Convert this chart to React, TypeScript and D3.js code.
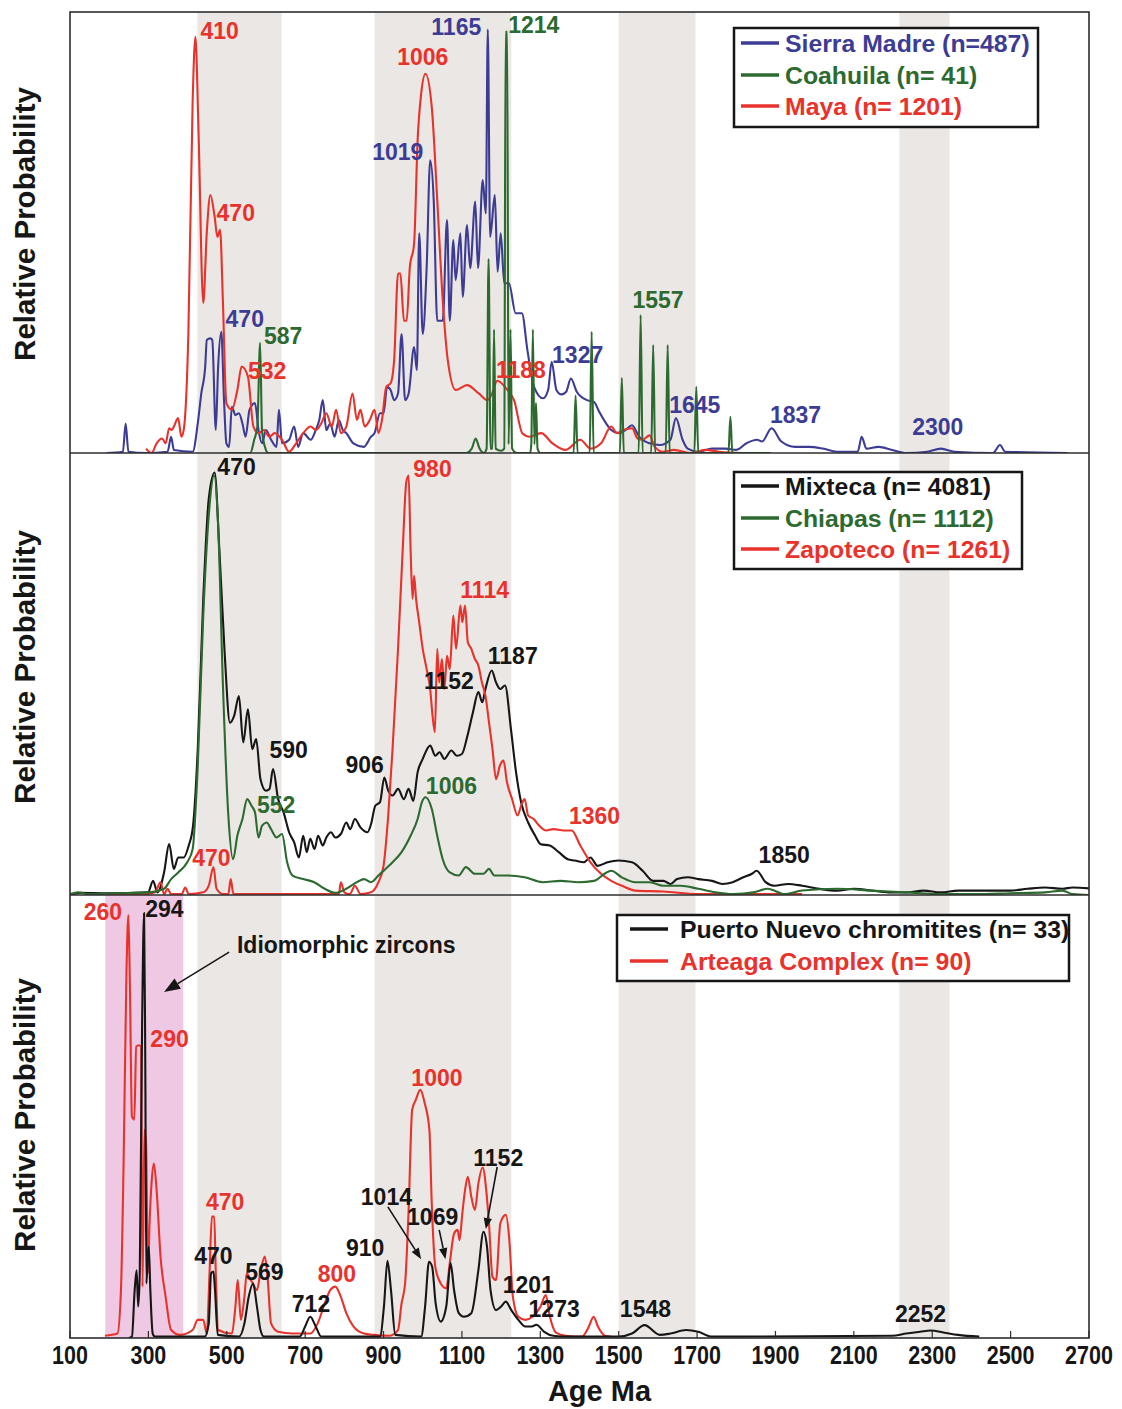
import React from "react";
import * as d3 from "d3";

type Pt = [number, number];

// ---- colours ----
const RED = "#e8322c";
const BLUE = "#3c3c95";
const GREEN = "#2c6a2f";
const BLACK = "#161616";
const BAND = "#ebe7e5";
const PINK = "#efc9e3";
const FRAME = "#2e2e2e";

// ---- axis ----
const ageTicks = [100, 300, 500, 700, 900, 1100, 1300, 1500, 1700, 1900, 2100, 2300, 2500, 2700];
const greyBands: Pt[] = [[425, 640], [877, 1226], [1500, 1696], [2216, 2344]];
const pinkBand: Pt = [190, 389];

// ---- panel 1: Sierra Madre, Coahuila, Maya ----
const sierraMadre: Pt[] = [
  [194, 0], [235, 0.3], [242, 6.7], [249, 0.3], [294, 0], [349, 0.3], [358, 3.7], [365, 0.7], [413, 0.3],
  [426, 6.7], [435, 13.5], [445, 19.6], [449, 25.6], [458, 26], [463, 25.6], [472, 5.2], [478, 19.6], [486, 27.5],
  [493, 12], [499, 2.2], [506, 1.4], [513, 10.5], [522, 8.6], [531, 9], [540, 6.7], [548, 3.7], [558, 9.8],
  [572, 11.3], [581, 5.2], [590, 2.2], [600, 5.2], [613, 3], [627, 1.4], [633, 9.8], [641, 2.2], [659, 3],
  [672, 6], [682, 1.4], [695, 4.5], [714, 3], [727, 5.2], [736, 7.5], [745, 12], [754, 5.2], [764, 6.7],
  [775, 3.7], [786, 7.5], [796, 5.2], [805, 4.5], [823, 2.2], [850, 1.4], [868, 3.7], [877, 4.5], [891, 9],
  [900, 9], [909, 15], [918, 14.3], [927, 12], [937, 13.5], [946, 27], [955, 12], [964, 13.5], [978, 24],
  [985, 18.8], [991, 49.8], [1000, 27], [1010, 42], [1019, 66.4], [1028, 57.4], [1037, 30], [1051, 30],
  [1062, 52.8], [1069, 30], [1078, 48.3], [1084, 39.2], [1096, 49.8], [1102, 35.4], [1113, 51.7], [1121, 41.9],
  [1134, 57], [1141, 41.9], [1153, 61.9], [1161, 54.3], [1166, 96], [1172, 49], [1184, 58.5], [1191, 41.1],
  [1199, 49.8], [1208, 38.5], [1220, 38.5], [1237, 31.7], [1253, 31.7], [1267, 23.4], [1284, 15], [1307, 12.4],
  [1320, 14.3], [1329, 20.7], [1341, 14.3], [1354, 13.3], [1366, 13.9], [1378, 16.9], [1393, 13.9], [1419, 12],
  [1437, 11.6], [1450, 9.4], [1468, 6.7], [1481, 5.2], [1499, 4.5], [1517, 5.2], [1534, 6.3], [1552, 3.7],
  [1579, 2.2], [1605, 1.8], [1632, 3], [1646, 7.9], [1663, 3], [1676, 1], [1703, 0.3], [1738, 1], [1773, 1],
  [1800, 0.7], [1826, 2.2], [1853, 3], [1866, 2.6], [1890, 5.6], [1915, 2.6], [1950, 1.4], [1986, 1.4],
  [2021, 1], [2057, 0.3], [2110, 0.3], [2120, 3.7], [2132, 1], [2163, 1.4], [2198, 0.7], [2234, 0],
  [2287, 0.3], [2322, 1], [2357, 0.3], [2455, 0], [2473, 1.8], [2486, 0.3], [2645, 0],
];

const coahuila: Pt[] = [
  [499, 0], [560, 0], [570, 3], [578, 6], [585, 25], [590, 5], [597, 1.5], [606, 0], [1110, 0], [1125, 1],
  [1135, 3.3], [1145, 1], [1156, 0], [1163, 1], [1168, 44], [1173, 1], [1178, 1], [1182, 28], [1186, 1],
  [1200, 0.5], [1208, 1], [1211.5, 95.5], [1215.5, 95.5], [1219, 2], [1224, 28], [1228, 1], [1240, 0],
  [1274, 0], [1277, 2], [1281, 28], [1285, 2], [1289, 11.3], [1293, 1], [1300, 0], [1385, 0], [1390, 13],
  [1395, 0], [1426, 0], [1431, 27.5], [1436, 0], [1503, 0], [1508, 17], [1513, 0], [1551, 0], [1556, 31.3],
  [1561, 0], [1583, 0], [1588, 24.5], [1593, 0], [1620, 0], [1625, 24.5], [1630, 0], [1693, 0], [1698, 15],
  [1703, 0], [1780, 0], [1785, 8.2], [1790, 0], [1888, 0],
];

const maya: Pt[] = [
  [294, 1], [308, 0], [321, 2.2], [335, 3.3], [344, 2.2], [353, 5.6], [360, 5.2], [365, 6], [376, 7.9],
  [384, 3.7], [390, 5.2], [402, 27], [413, 80], [420, 94.4], [428, 72.5], [440, 34], [449, 50], [458, 58.5],
  [469, 53.6], [476, 49], [483, 50.6], [490, 34.7], [499, 11.3], [513, 9.8], [527, 14.3], [538, 19.6],
  [554, 17.3], [568, 6], [581, 4.5], [595, 5.2], [609, 3.7], [622, 4.5], [641, 3], [659, 0.3], [677, 2.2],
  [695, 4.5], [714, 6], [727, 5.2], [741, 6.7], [754, 9], [768, 6], [779, 9.8], [791, 4.5], [805, 6],
  [821, 13.5], [832, 7.5], [841, 9.8], [852, 6], [865, 7.5], [877, 9.8], [887, 4.5], [896, 7.5], [907, 15],
  [918, 15.8], [927, 21], [937, 40.7], [943, 40.7], [952, 30], [959, 30], [967, 42], [978, 47.5], [987, 71],
  [996, 81.5], [1007, 86], [1023, 78.5], [1037, 57.4], [1051, 34.7], [1064, 21], [1084, 14.3], [1113, 15.4],
  [1143, 13.5], [1165, 12], [1177, 13.5], [1190, 16.4], [1216, 14.3], [1233, 12], [1254, 4.5], [1273, 3.7],
  [1302, 4.5], [1331, 2.2], [1365, 0.7], [1402, 3], [1428, 1], [1455, 2.2], [1481, 6], [1495, 4.5],
  [1512, 5.2], [1534, 5.6], [1548, 3.3], [1561, 3], [1579, 4], [1592, 1.4], [1614, 0.3], [1641, 0.7],
  [1685, 0], [1720, 0.7], [1756, 0.3], [1818, 0],
];

// ---- panel 2: Mixteca, Chiapas, Zapoteco ----
const mixteca: Pt[] = [
  [100, 0], [130, 0.5], [194, 0.4], [299, 0.6], [312, 3.2], [323, 0.6], [340, 5.1], [353, 11.5], [365, 5.9],
  [376, 8.5], [390, 8.5], [403, 11.2], [414, 15.7], [426, 33], [440, 67], [454, 89.6], [469, 95.6], [481, 78.3],
  [495, 54.1], [508, 39], [519, 40.6], [531, 45], [542, 34.5], [554, 42], [565, 33], [575, 35.3], [586, 26.2],
  [600, 23.6], [609, 24], [618, 28.5], [631, 21.7], [645, 18.7], [659, 14.2], [672, 11.9], [684, 8.5],
  [695, 13.4], [704, 9.7], [713, 12.7], [724, 10.4], [733, 13.4], [745, 11.2], [754, 13], [766, 14.2],
  [777, 13], [791, 13.8], [805, 16.4], [815, 14.9], [827, 17.2], [841, 15.3], [859, 14.2], [868, 16],
  [879, 20.2], [891, 21], [902, 26.6], [912, 23.6], [923, 22.5], [937, 24], [952, 21.7], [964, 24],
  [976, 21.3], [987, 27.8], [1000, 30.8], [1019, 33.8], [1032, 31.5], [1043, 32.3], [1055, 30.8],
  [1073, 32.7], [1087, 31.5], [1100, 31.9], [1114, 36], [1128, 41.3], [1142, 45.9], [1152, 43.6],
  [1160, 46.6], [1176, 50.8], [1187, 48.1], [1198, 46.6], [1210, 47.4], [1225, 37.6], [1237, 28.5],
  [1251, 21], [1269, 16.4], [1287, 13.4], [1301, 11.5], [1324, 11.2], [1347, 9.7], [1370, 8.1], [1388, 7.8],
  [1411, 7.4], [1428, 8.5], [1446, 6.6], [1472, 7.4], [1499, 7.8], [1534, 7.4], [1561, 5.5], [1588, 3.2],
  [1614, 3.2], [1632, 2.5], [1649, 3.6], [1676, 4], [1703, 3.6], [1738, 3.2], [1765, 2.5], [1791, 2.9],
  [1818, 4], [1840, 4.8], [1852, 5.5], [1875, 2.9], [1897, 2.1], [1933, 2.5], [1968, 2.1], [2012, 1.4],
  [2057, 1], [2101, 1.4], [2145, 1], [2189, 0.6], [2234, 0.6], [2278, 1], [2322, 0.6], [2366, 1], [2411, 1],
  [2455, 1], [2499, 1], [2543, 1.4], [2588, 1.7], [2632, 1.4], [2658, 1.7], [2700, 1.5],
];

const chiapas: Pt[] = [
  [100, 0.2], [121, 0.6], [148, 0.2], [212, 0.4], [303, 0.6], [340, 1.4], [358, 3.6], [376, 5.1], [399, 7.4],
  [413, 10.4], [426, 29.3], [440, 63.2], [454, 85.8], [468, 94.9], [478, 83.6], [490, 48.1], [504, 18],
  [516, 8.1], [527, 13.4], [540, 17.2], [552, 21.7], [563, 20.2], [572, 18.7], [581, 13], [590, 15.7],
  [602, 16.4], [613, 14.9], [627, 13], [641, 13.8], [654, 7.4], [668, 4.4], [695, 3.6], [723, 2.9], [750, 1.4],
  [777, 0.5], [805, 1.4], [832, 2.9], [850, 3.6], [868, 2.9], [887, 4.4], [905, 5.9], [923, 7.4], [946, 9.7],
  [969, 13.4], [987, 17.2], [998, 21], [1007, 22.1], [1023, 19.5], [1037, 13.4], [1051, 8.1], [1069, 5.1],
  [1092, 4.4], [1110, 6.3], [1133, 4.8], [1155, 4.8], [1169, 5.9], [1183, 4.4], [1215, 4.4], [1260, 4],
  [1306, 2.9], [1352, 3.2], [1397, 2.9], [1437, 3.2], [1464, 4.8], [1481, 5.5], [1508, 4], [1543, 2.9],
  [1579, 2.9], [1614, 2.1], [1658, 2.1], [1703, 1.4], [1747, 0.6], [1791, 0.2], [1844, 0.6], [1880, 1.4],
  [1924, 0.2], [1968, 1], [2057, 1.4], [2145, 1], [2234, 0.6], [2322, 0.2], [2411, 0.2], [2499, 0.4],
  [2588, 0.6], [2632, 1], [2658, 0.2], [2700, 0],
];

const zapoteco: Pt[] = [
  [194, 0.2], [294, 0.2], [317, 0.6], [331, 2.9], [340, 0.2], [349, 1.4], [358, 0.2], [385, 0.2], [394, 1.7],
  [403, 0.2], [440, 0.6], [454, 2.1], [466, 6.3], [474, 1.4], [490, 0.2], [504, 0.2], [510, 3.6], [517, 0.2],
  [568, 0.2], [786, 0.2], [791, 2.9], [800, 0.6], [814, 0.2], [827, 2.1], [841, 0.2], [868, 0.6], [887, 2.9],
  [900, 6.6], [912, 18], [923, 33], [937, 55.7], [949, 78.3], [958, 93.4], [964, 94.9], [969, 78.3],
  [974, 67], [978, 72.2], [983, 67], [991, 61.7], [1000, 55.7], [1010, 51.1], [1019, 46.6], [1025, 40.6],
  [1031, 36.8], [1037, 55.7], [1042, 48.1], [1049, 53.4], [1055, 46.6], [1062, 54.1], [1069, 51.1],
  [1078, 63.2], [1085, 55.7], [1096, 65.5], [1101, 61.7], [1108, 65.5], [1115, 57.2], [1124, 55.7],
  [1133, 53.4], [1142, 51.9], [1151, 48.1], [1160, 45.1], [1169, 39.1], [1178, 33], [1187, 26.2],
  [1197, 29.3], [1206, 30.4], [1215, 25.5], [1228, 21.7], [1242, 18], [1251, 20.2], [1260, 21.7], [1269, 18],
  [1283, 17.2], [1297, 15.7], [1315, 14.6], [1333, 14.9], [1360, 14.6], [1380, 14.6], [1402, 11.2],
  [1428, 7.4], [1455, 4.8], [1481, 3.2], [1508, 2.1], [1543, 1], [1614, 0.8], [1703, 0.2], [1791, 0.2],
  [1968, 0.2],
];

// ---- panel 3: Puerto Nuevo chromitites, Arteaga Complex ----
const puertoNuevo: Pt[] = [
  [250, 0], [258, 0.3], [265, 10.8], [270, 15.3], [274, 7.1], [278, 14.6], [284, 71], [289, 95.9], [292, 63.5],
  [295, 12.3], [298, 18.4], [301, 20.6], [305, 10.8], [311, 1], [317, 0.3], [444, 0.3], [454, 3.3], [460, 14.6],
  [466, 15], [470, 10.8], [477, 0.7], [531, 0.3], [545, 3.3], [556, 9.3], [567, 12.3], [577, 7.1], [586, 1.8],
  [595, 0.3], [686, 0.3], [700, 2.6], [713, 4.8], [727, 2.6], [741, 0.3], [891, 0.3], [901, 7.1], [910, 17.4],
  [919, 10.8], [930, 0.7], [996, 0.3], [1006, 7.1], [1016, 17.2], [1024, 16.1], [1033, 7.8], [1046, 3.7],
  [1060, 7.1], [1071, 16.9], [1080, 10.8], [1092, 5.6], [1105, 4.8], [1124, 5.6], [1142, 15.3], [1155, 24],
  [1164, 20.6], [1173, 10.8], [1187, 6.3], [1200, 7.1], [1212, 8.2], [1226, 6.3], [1244, 4.1], [1262, 2.6],
  [1278, 2.6], [1290, 3], [1310, 1.4], [1333, 0.5], [1369, 0.3], [1499, 0.3], [1534, 1], [1566, 2.9],
  [1605, 0.7], [1632, 1], [1672, 1.8], [1703, 1.4], [1738, 0.3], [2198, 0.5], [2234, 1], [2269, 1.4],
  [2296, 1.7], [2331, 1.2], [2366, 0.7], [2420, 0.3],
];

const arteaga: Pt[] = [
  [189, 0.5], [221, 1], [230, 10.8], [237, 41], [244, 82.3], [249, 95.5], [253, 78.6], [258, 50], [264, 49.3],
  [269, 65.8], [276, 66.1], [281, 65.8], [285, 11.6], [290, 47], [294, 44], [299, 14.6], [303, 25.9],
  [308, 34.9], [314, 39.4], [321, 33.4], [331, 18.4], [344, 9.3], [358, 1.8], [381, 0.7], [413, 1.8],
  [426, 4.1], [440, 4.1], [449, 1], [456, 14.6], [462, 27.4], [468, 27.4], [472, 14.6], [478, 1.8], [513, 1],
  [522, 7.1], [528, 13.1], [536, 4.1], [545, 9.3], [551, 14.6], [558, 13.5], [567, 12.3], [577, 10.8],
  [586, 15], [597, 18.4], [604, 13.8], [613, 3.3], [631, 1.4], [668, 1], [713, 1], [732, 3.3], [750, 7.8],
  [764, 10.8], [777, 11.6], [791, 9.3], [805, 5.6], [823, 2.6], [850, 1], [877, 0.7], [914, 0.5], [937, 1.8],
  [946, 7.8], [955, 12.3], [964, 28.9], [973, 51.5], [982, 53.7], [994, 56], [1005, 53], [1017, 47],
  [1023, 30.4], [1032, 16.1], [1046, 12.3], [1060, 11.2], [1069, 16.9], [1080, 23.6], [1089, 24.4],
  [1094, 22.1], [1101, 28.1], [1108, 33.4], [1115, 36.4], [1124, 31.9], [1133, 28.9], [1142, 34.9],
  [1153, 38.5], [1162, 33.4], [1169, 25.9], [1178, 13.8], [1187, 13.1], [1198, 25.9], [1212, 27.8],
  [1221, 22.1], [1230, 9.3], [1244, 4.8], [1262, 4.1], [1280, 4.8], [1300, 7], [1314, 9.7], [1324, 5],
  [1340, 1.2], [1365, 0.5], [1406, 0.3], [1424, 2.6], [1436, 4.8], [1447, 2.6], [1465, 0.5], [1480, 0.3],
];

// ---- peak labels: text, anchor age (Ma), anchor value, colour ----
type Label = { text: string; age: number; val: number; color: string };

const labels1: Label[] = [
  { text: "410", age: 433, val: 93.8, color: RED },
  { text: "470", age: 474, val: 52.7, color: RED },
  { text: "1006", age: 935, val: 88, color: RED },
  { text: "1019", age: 871, val: 66.4, color: BLUE },
  { text: "1165", age: 1022, val: 94.8, color: BLUE },
  { text: "1214", age: 1218, val: 95.2, color: GREEN },
  { text: "470", age: 497, val: 28.6, color: BLUE },
  { text: "587", age: 595, val: 24.7, color: GREEN },
  { text: "532", age: 554, val: 16.7, color: RED },
  { text: "1188", age: 1187, val: 16.9, color: RED },
  { text: "1327", age: 1330, val: 20.5, color: BLUE },
  { text: "1557", age: 1535, val: 32.8, color: GREEN },
  { text: "1645", age: 1629, val: 9, color: BLUE },
  { text: "1837", age: 1886, val: 6.9, color: BLUE },
  { text: "2300", age: 2249, val: 4.1, color: BLUE },
];

const labels2: Label[] = [
  { text: "470", age: 476, val: 95, color: BLACK },
  { text: "980", age: 976, val: 94.5, color: RED },
  { text: "1114", age: 1096, val: 67.1, color: RED },
  { text: "1187", age: 1166, val: 52.3, color: BLACK },
  { text: "1152", age: 1003, val: 46.5, color: BLACK },
  { text: "590", age: 609, val: 30.9, color: BLACK },
  { text: "906", age: 803, val: 27.7, color: BLACK },
  { text: "1006", age: 1008, val: 22.9, color: GREEN },
  { text: "552", age: 577, val: 18.5, color: GREEN },
  { text: "470", age: 412, val: 6.6, color: RED },
  { text: "1360", age: 1373, val: 16.1, color: RED },
  { text: "1850", age: 1857, val: 7.2, color: BLACK },
];

const labels3: Label[] = [
  { text: "260", age: 135, val: 94.4, color: RED },
  { text: "294", age: 292, val: 95, color: BLACK },
  { text: "290", age: 305, val: 65.8, color: RED },
  { text: "1000", age: 971, val: 56.9, color: RED },
  { text: "470", age: 447, val: 28.9, color: RED },
  { text: "1014", age: 842, val: 30, color: BLACK },
  { text: "1069", age: 960, val: 25.4, color: BLACK },
  { text: "1152", age: 1129, val: 38.8, color: BLACK },
  { text: "910", age: 804, val: 18.4, color: BLACK },
  { text: "470", age: 417, val: 16.7, color: BLACK },
  { text: "569", age: 547, val: 13.1, color: BLACK },
  { text: "800", age: 732, val: 12.7, color: RED },
  { text: "712", age: 666, val: 5.9, color: BLACK },
  { text: "1201", age: 1204, val: 10.1, color: BLACK },
  { text: "1273", age: 1270, val: 4.7, color: BLACK },
  { text: "1548", age: 1503, val: 4.8, color: BLACK },
  { text: "2252", age: 2205, val: 3.7, color: BLACK },
];

// arrows in the bottom panel: [fromAge, fromVal, toAge, toVal]
const arrows3: [number, number, number, number][] = [
  [506, 87.1, 340, 78.1],
  [911, 29.6, 996, 17.8],
  [1042, 24.4, 1058, 17.8],
  [1190, 38.6, 1161, 24.6],
];

type Series = { name: string; color: string; data: Pt[] };

const panel1Series: Series[] = [
  { name: "Sierra Madre (n=487)", color: BLUE, data: sierraMadre },
  { name: "Coahuila (n= 41)", color: GREEN, data: coahuila },
  { name: "Maya (n= 1201)", color: RED, data: maya },
];
const panel2Series: Series[] = [
  { name: "Mixteca (n= 4081)", color: BLACK, data: mixteca },
  { name: "Chiapas (n= 1112)", color: GREEN, data: chiapas },
  { name: "Zapoteco (n= 1261)", color: RED, data: zapoteco },
];
const panel3Series: Series[] = [
  { name: "Puerto Nuevo chromitites (n= 33)", color: BLACK, data: puertoNuevo },
  { name: "Arteaga Complex (n= 90)", color: RED, data: arteaga },
];

// ---- layout ----
const W = 1122;
const H = 1409;
const X0 = 70;
const X1 = 1089;
const FONT = "'Liberation Sans', Arial, Helvetica, sans-serif";
const LABEL_SIZE = 23;
const LEGEND_SIZE = 24.8;

const x = d3.scaleLinear().domain([100, 2700]).range([X0, X1]);

type PanelCfg = {
  top: number;
  base: number;
  titleY: number;
  series: Series[];
  drawOrder: number[];
  labels: Label[];
  legend: { x: number; y: number; w: number; h: number; lineX: number; textX: number; rowY: number[] };
};

const panelCfgs: PanelCfg[] = [
  {
    top: 12, base: 453, titleY: 224, series: panel1Series, drawOrder: [0, 2, 1], labels: labels1,
    legend: { x: 734, y: 28, w: 304, h: 99, lineX: 741, textX: 785, rowY: [43, 75, 106] },
  },
  {
    top: 453, base: 895, titleY: 667, series: panel2Series, drawOrder: [0, 2, 1], labels: labels2,
    legend: { x: 734, y: 472, w: 288, h: 97, lineX: 741, textX: 785, rowY: [486, 518, 549] },
  },
  {
    top: 895, base: 1338, titleY: 1115, series: panel3Series, drawOrder: [1, 0], labels: labels3,
    legend: { x: 617, y: 915, w: 452, h: 66, lineX: 630, textX: 680, rowY: [929, 961] },
  },
];

function Arrow({ x1, y1, x2, y2, head }: { x1: number; y1: number; x2: number; y2: number; head: number }) {
  const ang = Math.atan2(y2 - y1, x2 - x1);
  const w = head * 0.38;
  const bx = x2 - head * Math.cos(ang);
  const by = y2 - head * Math.sin(ang);
  const p1 = [bx + w * Math.sin(ang), by - w * Math.cos(ang)];
  const p2 = [bx - w * Math.sin(ang), by + w * Math.cos(ang)];
  return (
    <g>
      <line x1={x1} y1={y1} x2={bx} y2={by} stroke={BLACK} strokeWidth={1.6} />
      <polygon points={`${x2},${y2} ${p1[0]},${p1[1]} ${p2[0]},${p2[1]}`} fill={BLACK} />
    </g>
  );
}

function Panel({ cfg, index }: { cfg: PanelCfg; index: number }) {
  const y = d3.scaleLinear().domain([0, 100]).range([cfg.base, cfg.top]);
  const line = d3
    .line<Pt>()
    .x((d) => x(d[0]))
    .y((d) => y(d[1]))
    .curve(d3.curveMonotoneX);
  const clipId = `clip-${index}`;
  return (
    <g>
      <defs>
        <clipPath id={clipId}>
          <rect x={X0} y={cfg.top} width={X1 - X0} height={cfg.base - cfg.top} />
        </clipPath>
      </defs>
      <g clipPath={`url(#${clipId})`}>
        {greyBands.map(([a, b], i) => (
          <rect key={i} x={x(a)} y={cfg.top} width={x(b) - x(a)} height={cfg.base - cfg.top} fill={BAND} />
        ))}
        {index === 2 && (
          <rect x={x(pinkBand[0])} y={cfg.top} width={x(pinkBand[1]) - x(pinkBand[0])} height={cfg.base - cfg.top} fill={PINK} />
        )}
        {cfg.drawOrder.map((si) => (
          <path
            key={si}
            d={line(cfg.series[si].data) || ""}
            fill="none"
            stroke={cfg.series[si].color}
            strokeWidth={2.1}
            strokeLinejoin="round"
          />
        ))}
      </g>
      {cfg.labels.map((l, i) => (
        <text
          key={i}
          x={x(l.age)}
          y={y(l.val)}
          fill={l.color}
          fontFamily={FONT}
          fontWeight="bold"
          fontSize={LABEL_SIZE}
        >
          {l.text}
        </text>
      ))}
      {index === 2 && (
        <g>
          <text x={x(526)} y={y(87)} fill={BLACK} fontFamily={FONT} fontWeight="bold" fontSize={LABEL_SIZE}>
            Idiomorphic zircons
          </text>
          {arrows3.map((a, i) => (
            <Arrow key={i} x1={x(a[0])} y1={y(a[1])} x2={x(a[2])} y2={y(a[3])} head={i === 0 ? 16 : 11} />
          ))}
        </g>
      )}
      {/* legend */}
      <rect
        x={cfg.legend.x}
        y={cfg.legend.y}
        width={cfg.legend.w}
        height={cfg.legend.h}
        fill="#fff"
        stroke={BLACK}
        strokeWidth={2.5}
      />
      {cfg.series.map((s, i) => (
        <g key={i}>
          <line
            x1={cfg.legend.lineX}
            x2={cfg.legend.lineX + 38}
            y1={cfg.legend.rowY[i]}
            y2={cfg.legend.rowY[i]}
            stroke={s.color}
            strokeWidth={3.5}
          />
          <text
            x={cfg.legend.textX}
            y={cfg.legend.rowY[i] + 8.8}
            fill={s.color}
            fontFamily={FONT}
            fontWeight="bold"
            fontSize={LEGEND_SIZE}
          >
            {s.name}
          </text>
        </g>
      ))}
      <text
        transform={`translate(25,${cfg.titleY}) rotate(-90)`}
        textAnchor="middle"
        dy="0.35em"
        fontFamily={FONT}
        fontWeight="bold"
        fontSize={29.5}
        fill={BLACK}
      >
        Relative Probability
      </text>
    </g>
  );
}

export default function App() {
  const axisY = panelCfgs[2].base;
  return (
    <svg
      width={W}
      height={H}
      viewBox={`0 0 ${W} ${H}`}
      style={{ position: "absolute", left: 0, top: 0, background: "#fff" }}
    >
      <rect x={0} y={0} width={W} height={H} fill="#fff" />
      {panelCfgs.map((cfg, i) => (
        <Panel key={i} cfg={cfg} index={i} />
      ))}
      {/* frame and panel dividers */}
      <rect x={X0} y={panelCfgs[0].top} width={X1 - X0} height={axisY - panelCfgs[0].top} fill="none" stroke={FRAME} strokeWidth={1.6} />
      <line x1={X0} x2={X1} y1={panelCfgs[0].base} y2={panelCfgs[0].base} stroke={FRAME} strokeWidth={1.6} />
      <line x1={X0} x2={X1} y1={panelCfgs[1].base} y2={panelCfgs[1].base} stroke={FRAME} strokeWidth={1.6} />
      {/* x axis */}
      {ageTicks.map((t) => (
        <g key={t}>
          <line x1={x(t)} x2={x(t)} y1={axisY} y2={axisY - 7} stroke={FRAME} strokeWidth={1.2} />
          <text
            transform={`translate(${x(t)},${axisY + 26}) scale(0.86,1)`}
            textAnchor="middle"
            fontFamily={FONT}
            fontWeight="bold"
            fontSize={25}
            fill={BLACK}
          >
            {t}
          </text>
        </g>
      ))}
      <text
        x={(X0 + X1) / 2 + 20}
        y={axisY + 63}
        textAnchor="middle"
        fontFamily={FONT}
        fontWeight="bold"
        fontSize={29}
        fill={BLACK}
      >
        Age Ma
      </text>
    </svg>
  );
}
